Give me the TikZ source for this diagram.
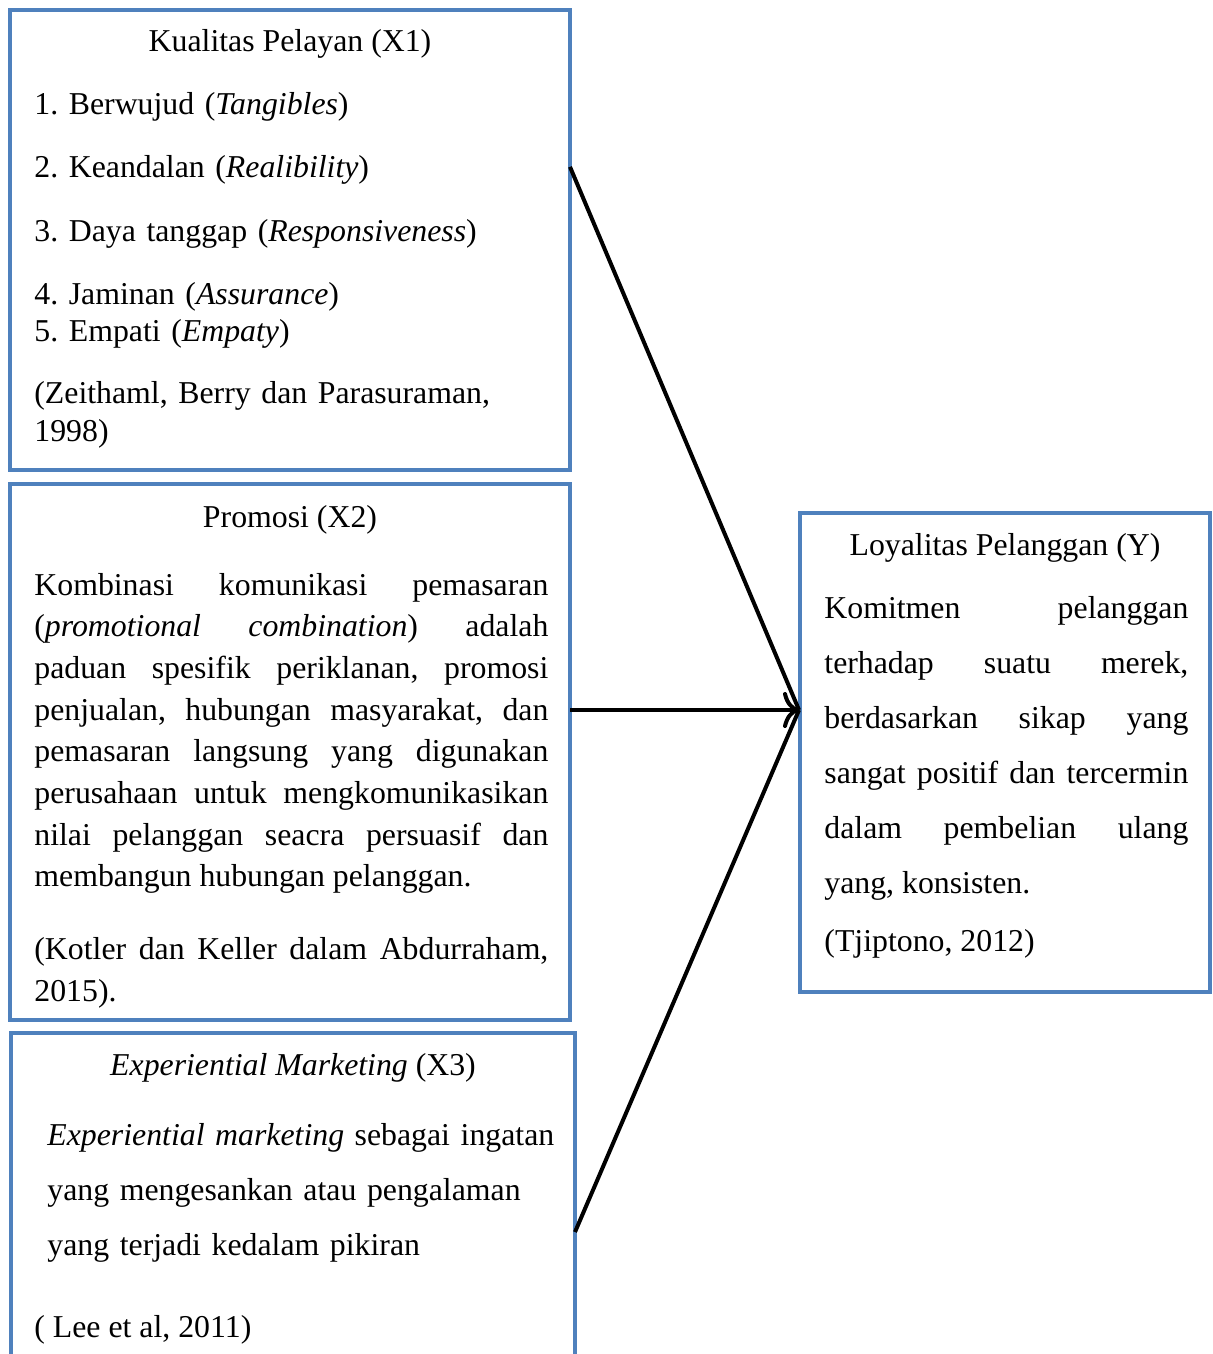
\documentclass[tikz,border=0pt]{standalone}
\usepackage{fontspec}
\setmainfont{Liberation Serif}
\frenchspacing
\usetikzlibrary{arrows.meta,calc}
\definecolor{boxblue}{HTML}{4F81BD}
\tikzset{
  box/.style={draw=boxblue, line width=2pt, anchor=north west, inner sep=0pt, outer sep=0pt},
  ttl/.style={anchor=base, inner sep=0pt, font=\fontsize{15.9}{18.5}\selectfont},
  txt/.style={anchor=base west, inner sep=0pt, align=left},
  jtxt/.style={anchor=base west, inner sep=0pt, align=justify},
  link/.style={line width=2pt}
}

\begin{document}
\begin{tikzpicture}[x=0.5pt, y=-0.5pt]
  \useasboundingbox (0,0) rectangle (1212,1354);
  % kotak variabel
  \node (kualitas) [box, minimum width=280pt, minimum height=230pt] at (10,10) {};
  \node (promosi) [box, minimum width=280pt, minimum height=268pt] at (10,484) {};
  \node (experiential) [box, minimum width=282pt, minimum height=184pt] at (11,1033) {};
  \node (loyalitas) [box, minimum width=205pt, minimum height=239.5pt] at (800,513) {};

  % X1
  \node (k-title) [ttl] at (290,52) {Kualitas Pelayan (X1)};
  \node (k-list) [txt, text width=260pt, font=\fontsize{15.9}{18.5}\selectfont] at (34,115)
    {1. Berwujud (\textit{Tangibles})\\[13pt]
     2. Keandalan (\textit{Realibility})\\[13pt]
     3. Daya tanggap (\textit{Responsiveness})\\[13pt]
     4. Jaminan (\textit{Assurance})\\
     5. Empati (\textit{Empaty})\\[13pt]
     (Zeithaml, Berry dan Parasuraman,\\
     1998)};

  % X2
  \node (p-title) [ttl] at (290,527) {Promosi (X2)};
  \node (p-body) [jtxt, text width=257pt, font=\fontsize{15.9}{20.85}\selectfont] at (34,595)
    {Kombinasi komunikasi pemasaran\linebreak
     (\textit{promotional combination}) adalah\linebreak
     paduan spesifik periklanan, promosi\linebreak
     penjualan, hubungan masyarakat, dan\linebreak
     pemasaran langsung yang digunakan\linebreak
     perusahaan untuk mengkomunikasikan\linebreak
     nilai pelanggan seacra persuasif dan\linebreak
     membangun hubungan pelanggan.\par\vskip15.5pt
     (Kotler dan Keller dalam Abdurraham,\linebreak
     2015).};

  % X3
  \node (e-title) [ttl] at (293,1075) {\textit{Experiential Marketing} (X3)};
  \node (e-body) [txt, text width=270pt, font=\fontsize{15.9}{27.5}\selectfont] at (47,1145)
    {\textit{Experiential marketing} sebagai ingatan\\
     yang mengesankan atau pengalaman\\
     yang terjadi kedalam pikiran};
  \node (e-source) [txt, font=\fontsize{15.9}{18.5}\selectfont] at (34,1337) {( Lee et al, 2011)};

  % Y
  \node (l-title) [ttl] at (1005,555) {Loyalitas Pelanggan (Y)};
  \node (l-body) [jtxt, text width=182pt, font=\fontsize{15.9}{27.5}\selectfont] at (824,618)
    {Komitmen pelanggan\linebreak
     terhadap suatu merek,\linebreak
     berdasarkan sikap yang\linebreak
     sangat positif dan tercermin\linebreak
     dalam pembelian ulang\linebreak
     yang, konsisten.\par\vskip1.5pt
     (Tjiptono, 2012)};

  % panah
  \coordinate (tip) at ($(loyalitas.north west)+(-1,197)$);
  \coordinate (k-out) at ($(kualitas.north east)!0.341!(kualitas.south east)$);
  \coordinate (e-out) at ($(experiential.north east)+(0,199)$);
  \draw[link] (k-out) -- (tip);
  \draw[link] (e-out) -- (tip);
  \draw[link, -{To[length=8pt, width=18pt]}] (promosi.east |- tip) -- (tip);
\end{tikzpicture}
\end{document}
